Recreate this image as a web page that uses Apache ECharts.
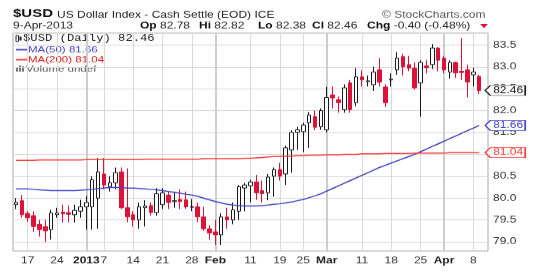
<!DOCTYPE html>
<html><head><meta charset="utf-8">
<script src="https://cdn.jsdelivr.net/npm/echarts@6.0.0/dist/echarts.min.js"></script>
<style>
html,body{margin:0;padding:0;background:#fff;overflow:hidden;}
#c{width:534px;height:352px;transform:scaleY(0.77);transform-origin:0 0;}
</style></head><body><div id="c"></div>
<script>
const dates = [
'2012-12-13','2012-12-14','2012-12-17','2012-12-18','2012-12-19','2012-12-20','2012-12-21','2012-12-24','2012-12-26','2012-12-27',
'2012-12-28','2012-12-31','2013-01-02','2013-01-03','2013-01-04','2013-01-07','2013-01-08','2013-01-09','2013-01-10','2013-01-11',
'2013-01-14','2013-01-15','2013-01-16','2013-01-17','2013-01-18','2013-01-21','2013-01-22','2013-01-23','2013-01-24','2013-01-25',
'2013-01-28','2013-01-29','2013-01-30','2013-01-31','2013-02-01','2013-02-04','2013-02-05','2013-02-06','2013-02-07','2013-02-08',
'2013-02-11','2013-02-12','2013-02-13','2013-02-14','2013-02-15','2013-02-19','2013-02-20','2013-02-21','2013-02-22','2013-02-25',
'2013-02-26','2013-02-27','2013-02-28','2013-03-01','2013-03-04','2013-03-05','2013-03-06','2013-03-07','2013-03-08','2013-03-11',
'2013-03-12','2013-03-13','2013-03-14','2013-03-15','2013-03-18','2013-03-19','2013-03-20','2013-03-21','2013-03-22','2013-03-25',
'2013-03-26','2013-03-27','2013-03-28','2013-04-01','2013-04-02','2013-04-03','2013-04-04','2013-04-05','2013-04-08','2013-04-09'];

const opens = [
79.85,79.94,79.65,79.60,79.40,79.35,79.28,79.62,79.68,79.67,
79.62,79.70,79.80,79.80,80.00,80.55,80.26,80.35,80.60,79.78,
79.62,79.50,79.78,79.83,79.67,79.85,80.07,79.92,79.97,79.96,
79.79,79.80,79.57,79.30,79.23,79.16,79.57,79.50,79.70,80.23,
80.28,80.37,80.17,80.12,80.50,80.65,80.55,81.10,81.50,81.52,
81.72,81.86,81.63,81.56,82.36,82.25,82.02,82.63,82.18,82.77,
82.66,82.59,82.93,82.54,82.70,82.93,83.23,83.05,82.97,82.63,
83.02,83.05,83.43,83.20,82.88,83.10,82.90,82.93,82.82,82.78];
const closes = [
79.90,79.62,79.55,79.35,79.28,79.25,79.66,79.66,79.64,79.63,
79.72,79.80,79.90,80.42,80.60,80.30,80.35,80.58,79.78,79.57,
79.50,79.80,79.82,79.67,80.10,80.12,79.90,79.94,79.92,79.80,
79.80,79.57,79.30,79.20,79.16,79.57,79.50,79.73,80.26,80.30,
80.37,80.12,80.10,80.48,80.65,80.50,81.15,81.50,81.56,81.67,
81.90,81.62,82.00,82.30,82.29,82.18,82.52,82.02,82.77,82.70,
82.68,82.88,82.65,82.18,82.72,83.20,83.00,82.97,82.52,83.10,
82.98,83.43,83.15,82.93,83.10,82.86,82.87,82.65,82.88,82.46];
const lows = [
79.75,79.55,79.46,79.23,79.12,79.00,79.05,79.55,79.44,79.45,
79.44,79.55,79.28,79.28,79.30,80.20,80.15,80.20,79.75,79.45,
79.35,79.30,79.35,79.60,79.60,79.75,79.75,79.78,79.75,79.75,
79.70,79.45,79.25,79.05,78.93,78.93,79.30,79.40,79.50,79.70,
79.90,79.96,79.90,79.95,80.03,80.40,80.30,80.58,81.10,81.05,
81.15,81.55,81.56,81.50,82.05,81.95,81.95,81.95,82.10,82.55,
82.55,82.45,82.55,82.08,82.55,82.82,82.80,82.90,82.48,81.86,
82.85,82.95,82.90,82.85,82.73,82.75,82.70,82.30,82.55,82.38];
const highs = [
80.00,80.07,79.70,79.70,79.50,79.50,79.73,79.78,79.85,79.83,
79.85,79.96,80.05,80.50,80.92,80.92,80.50,80.70,80.70,80.68,
79.70,79.90,79.95,79.90,80.23,80.23,80.15,80.15,80.20,80.15,
79.98,79.90,79.80,79.38,79.50,79.65,79.78,79.90,80.30,80.35,
80.42,80.53,80.40,80.55,80.70,80.80,81.20,81.55,81.63,81.72,
81.97,82.00,82.05,82.54,82.55,82.32,82.60,82.70,82.97,82.92,
82.80,83.00,83.20,82.60,82.85,83.34,83.30,83.25,83.10,83.15,
83.15,83.52,83.45,83.25,83.15,83.12,83.66,83.05,82.98,82.82];
const ma50 = [
80.21,80.21,80.21,80.20,80.19,80.18,80.17,80.17,80.17,80.17,
80.17,80.18,80.19,80.20,80.22,80.23,80.24,80.24,80.24,80.23,
80.23,80.22,80.21,80.20,80.19,80.17,80.15,80.13,80.11,80.09,
80.07,80.04,80.00,79.96,79.92,79.89,79.86,79.84,79.83,79.82,
79.82,79.82,79.83,79.84,79.86,79.87,79.89,79.91,79.94,79.97,
80.01,80.05,80.10,80.16,80.22,80.28,80.34,80.40,80.46,80.52,
80.58,80.64,80.70,80.75,80.80,80.85,80.90,80.95,81.00,81.06,
81.12,81.18,81.24,81.30,81.36,81.42,81.48,81.54,81.60,81.66];
const ma200 = [
80.86,80.86,80.86,80.86,80.87,80.87,80.87,80.87,80.87,80.87,
80.87,80.87,80.88,80.88,80.88,80.88,80.88,80.88,80.88,80.88,
80.88,80.88,80.89,80.89,80.89,80.89,80.89,80.89,80.89,80.89,
80.89,80.89,80.90,80.90,80.90,80.90,80.90,80.90,80.90,80.91,
80.91,80.92,80.93,80.94,80.95,80.95,80.96,80.96,80.97,80.97,
80.98,80.98,80.98,80.99,80.99,80.99,81.00,81.00,81.00,81.01,
81.01,81.01,81.01,81.02,81.02,81.02,81.02,81.02,81.03,81.03,
81.03,81.03,81.03,81.03,81.04,81.04,81.04,81.04,81.04,81.04];

const tickDates = ['2012-12-17','2012-12-24','2013-01-02','2013-01-07','2013-01-14','2013-01-21','2013-01-28','2013-02-01',
  '2013-02-11','2013-02-19','2013-02-25','2013-03-01','2013-03-11','2013-03-18','2013-03-25','2013-04-01','2013-04-08'];
const tickLabels = ['17','24','2013','7','14','21','28','Feb','11','19','25','Mar','11','18','25','Apr','8'];
const boldTicks = ['2013','Feb','Mar','Apr'];
const yMin = 78.79, yMax = 83.77;

const RED = '#dc1238', BLUE = '#4646c4', MA_RED = '#ff3b3b';
const FONT = '"Liberation Sans", Arial, sans-serif';
const categories = dates.concat(['']);
const candleData = dates.map((d, i) => [opens[i], closes[i], lows[i], highs[i]]);
const last = dates.length - 1;

const tickMap = {};
tickDates.forEach((d, i) => tickMap[d] = tickLabels[i]);

function priceBox(value, color, textColor) {
  return {
    silent: true,
    symbol: 'path://M0,6 L6,0 L46,0 L46,12 L6,12 Z',
    symbolSize: [40, 13],
    symbolOffset: [26, 0],
    itemStyle: { color: '#fff', borderColor: color, borderWidth: 1 },
    label: { show: true, position: 'inside', formatter: value.toFixed(2), color: textColor,
             fontSize: 12, fontFamily: FONT, offset: [3, 0] },
    data: [{ coord: [dates[last], value] }]
  };
}

const chart = echarts.init(document.getElementById('c'), null, { renderer: 'canvas' });
chart.setOption({
  animation: false,
  backgroundColor: '#fff',
  grid: { left: 13, top: 43, width: 475, height: 283, show: true, borderColor: '#aaa', borderWidth: 1, backgroundColor: 'transparent' },
  xAxis: {
    type: 'category', data: categories, boundaryGap: true,
    axisLine: { show: false }, axisTick: { show: false }, splitLine: { show: false },
    axisLabel: {
      interval: (idx, v) => tickMap[v] !== undefined,
      formatter: v => { const t = tickMap[v] || ''; return boldTicks.includes(t) ? '{b|' + t + '}' : t; },
      color: '#333', fontSize: 12, fontFamily: FONT, margin: 7,
      rich: { b: { fontWeight: 'bold', fontSize: 12, fontFamily: FONT, color: '#222' } }
    }
  },
  yAxis: {
    type: 'value', position: 'right', min: yMin, max: yMax, splitNumber: 10, scale: true,
    axisLine: { show: false }, axisTick: { show: false },
    splitLine: { show: true, lineStyle: { color: '#d8d8d8', width: 1 } },
    axisLabel: {
      margin: 5, color: '#333', fontSize: 12, fontFamily: FONT,
      formatter: v => (Math.abs(v * 2 - Math.round(v * 2)) < 1e-6 ? v.toFixed(1) : '')
    }
  },
  series: [
    {
      type: 'candlestick', data: candleData, barWidth: 4, clip: false, z: 2,
      itemStyle: { color: '#fff', color0: RED, borderColor: '#1a1a1a', borderColor0: RED, borderWidth: 1 },
      markLine: {
        silent: true, symbol: 'none', z: 1, animation: false,
        label: { show: false },
        data: tickDates.map((d, i) => ({
          xAxis: d,
          lineStyle: boldTicks.includes(tickLabels[i])
            ? { color: '#cdcdcd', width: 2, type: 'solid' }
            : { color: '#dadada', width: 1, type: 'solid' }
        }))
      },
      markPoint: priceBox(closes[last], '#222', '#111')
    },
    {
      type: 'line', data: ma50, showSymbol: false, z: 3,
      lineStyle: { color: BLUE, width: 1.5 },
      markPoint: priceBox(ma50[last], BLUE, BLUE)
    },
    {
      type: 'line', data: ma200, showSymbol: false, z: 3,
      lineStyle: { color: MA_RED, width: 1.5 },
      markPoint: priceBox(ma200[last], MA_RED, MA_RED)
    }
  ],
  graphic: [
    { type: 'text', x: 13, y: 18, style: { text: '$USD', font: 'bold 15px ' + FONT, fill: '#111', textVerticalAlign: 'middle' } },
    { type: 'text', x: 57, y: 19.5, style: { text: 'US Dollar Index - Cash Settle (EOD) ICE', font: '12px ' + FONT, fill: '#222', textVerticalAlign: 'middle' } },
    { type: 'text', x: 382, y: 19.5, style: { text: '\u00a9 StockCharts.com', font: '12px ' + FONT, fill: '#555', textVerticalAlign: 'middle' } },
    { type: 'text', x: 13, y: 33.8, style: { text: '9-Apr-2013', font: '12px ' + FONT, fill: '#222', textVerticalAlign: 'middle' } },
    { type: 'text', x: 140, y: 33.8, style: { text: '{b|Op} 82.78', font: '12px ' + FONT, fill: '#222', textVerticalAlign: 'middle', rich: { b: { font: 'bold 12px ' + FONT, fill: '#111' } } } },
    { type: 'text', x: 199, y: 33.8, style: { text: '{b|Hi} 82.82', font: '12px ' + FONT, fill: '#222', textVerticalAlign: 'middle', rich: { b: { font: 'bold 12px ' + FONT, fill: '#111' } } } },
    { type: 'text', x: 258, y: 33.8, style: { text: '{b|Lo} 82.38', font: '12px ' + FONT, fill: '#222', textVerticalAlign: 'middle', rich: { b: { font: 'bold 12px ' + FONT, fill: '#111' } } } },
    { type: 'text', x: 312, y: 33.8, style: { text: '{b|Cl} 82.46', font: '12px ' + FONT, fill: '#222', textVerticalAlign: 'middle', rich: { b: { font: 'bold 12px ' + FONT, fill: '#111' } } } },
    { type: 'text', x: 367, y: 33.8, style: { text: '{b|Chg} -0.40 (-0.48%)', font: '12px ' + FONT, fill: '#222', textVerticalAlign: 'middle', rich: { b: { font: 'bold 12px ' + FONT, fill: '#111' } } } },
    { type: 'polygon', shape: { points: [[480, 31], [488, 31], [484, 36.5]] }, style: { fill: RED } },
    // legend
    { type: 'rect', shape: { x: 16, y: 46, width: 2.5, height: 8 }, style: { fill: '#fff', stroke: '#222', lineWidth: 1 } },
    { type: 'rect', shape: { x: 19.5, y: 47.5, width: 2, height: 5 }, style: { fill: '#222' } },
    { type: 'text', x: 23, y: 50, style: { text: '$USD (Daily) 82.46', font: '12.2px "Liberation Mono", monospace', fill: '#222', textVerticalAlign: 'middle' } },
    { type: 'line', shape: { x1: 16, y1: 64.5, x2: 27, y2: 64.5 }, style: { stroke: BLUE, lineWidth: 2 } },
    { type: 'text', x: 28, y: 64.5, style: { text: 'MA(50) 81.66', font: '11.5px ' + FONT, fill: BLUE, textVerticalAlign: 'middle' } },
    { type: 'line', shape: { x1: 16, y1: 77.5, x2: 27, y2: 77.5 }, style: { stroke: MA_RED, lineWidth: 2 } },
    { type: 'text', x: 28, y: 77.5, style: { text: 'MA(200) 81.04', font: '11.5px ' + FONT, fill: '#e02020', textVerticalAlign: 'middle' } },
    { type: 'rect', shape: { x: 16, y: 87, width: 2, height: 6 }, style: { fill: '#777' } },
    { type: 'rect', shape: { x: 19, y: 85, width: 2, height: 8 }, style: { fill: '#777' } },
    { type: 'rect', shape: { x: 22, y: 86, width: 2, height: 7 }, style: { fill: '#777' } },
    { type: 'text', x: 26, y: 89.4, style: { text: 'Volume undef', font: '11.5px ' + FONT, fill: '#555', textVerticalAlign: 'middle' } }
  ]
});
</script></body></html>
